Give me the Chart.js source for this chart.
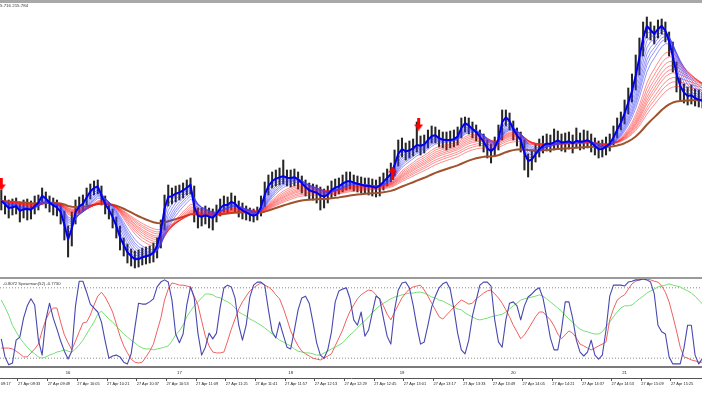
<!DOCTYPE html>
<html><head><meta charset="utf-8">
<script src="https://cdn.jsdelivr.net/npm/chart.js@4/dist/chart.umd.min.js"></script>
<style>
html,body{margin:0;padding:0;background:#fff;width:702px;height:395px;overflow:hidden;}
#topbar{position:absolute;left:0;top:0;width:702px;height:3px;background:#a8a8a8;}
#main{position:absolute;left:0;top:3px;}
#sep{position:absolute;left:0;top:277px;width:702px;height:2px;background:#9a9a9a;}
#osc{position:absolute;left:0;top:279px;}
</style></head><body>
<div id="topbar"></div>
<canvas id="main" width="702" height="274"></canvas>
<div id="sep"></div>
<canvas id="osc" width="702" height="116"></canvas>
<script>
// ---------- data ----------
const startTime = '09:24';
const stepMinutes = 2;
const viewFrom = '09:23.3';
const headerMain = '5.716 215.784';
const headerOsc = '-0.8072 Spearman(52) -0.7730';
const datePrefix = '27 Apr ';
const timeTicks = ['09:17','09:33','09:49','10:05','10:21','10:37','10:53','11:09','11:25','11:41','11:57','12:13','12:29','12:45','13:01','13:17','13:33','13:49','14:05','14:21','14:37','14:53','15:09','15:25'];
const hourTickTimes = ['10:00','11:00','12:00','13:00','14:00','15:00'];
const hourTickLabels = ['16','17','18','19','20','21'];
const priceMin = 214.23, priceMax = 216.97;
const levels = [0.8, -0.8];

const closePrices = [214.99,214.95,214.91,214.93,214.94,214.88,214.91,214.91,214.90,214.95,
214.98,215.06,215.01,214.96,214.94,214.92,214.87,214.72,214.57,214.74,
214.92,214.95,214.97,215.04,215.10,215.13,215.14,215.02,214.94,214.89,
214.81,214.72,214.60,214.53,214.46,214.43,214.40,214.41,214.43,214.44,
214.45,214.48,214.56,214.72,214.97,215.06,215.04,215.07,215.08,215.10,
215.13,215.16,214.88,214.82,214.83,214.85,214.83,214.82,214.87,214.93,
214.96,214.95,214.99,214.96,214.91,214.89,214.87,214.85,214.84,214.86,
214.95,215.08,215.16,215.20,215.22,215.23,215.24,215.22,215.22,215.23,
215.20,215.16,215.12,215.09,215.08,215.07,215.04,215.03,215.06,215.11,
215.13,215.14,215.17,215.19,215.19,215.17,215.16,215.15,215.14,215.14,
215.13,215.12,215.15,215.19,215.23,215.27,215.37,215.49,215.52,215.48,
215.50,215.52,215.56,215.54,215.56,215.61,215.65,215.65,215.61,215.60,
215.60,215.60,215.61,215.64,215.74,215.78,215.74,215.70,215.67,215.62,
215.57,215.50,215.48,215.53,215.63,215.82,215.84,215.78,215.69,215.63,
215.59,215.44,215.37,215.41,215.47,215.52,215.55,215.57,215.56,215.58,
215.60,215.57,215.58,215.59,215.56,215.60,215.58,215.59,215.60,215.57,
215.53,215.50,215.51,215.54,215.57,215.64,215.72,215.79,215.89,216.00,
216.12,216.28,216.47,216.67,216.77,216.69,216.65,216.72,216.75,216.68,
216.56,216.40,216.22,216.11,216.06,216.03,216.05,216.01,216.00,215.99];

const highPrices = [215.10,215.04,215.00,215.01,215.02,214.98,215.00,215.01,214.99,215.04,
215.05,215.12,215.08,215.04,215.02,215.00,214.96,214.89,214.74,214.88,
215.00,215.03,215.05,215.12,215.16,215.19,215.20,215.14,215.04,214.97,
214.91,214.83,214.74,214.62,214.56,214.51,214.49,214.50,214.52,214.53,
214.54,214.57,214.62,214.80,215.05,215.15,215.12,215.14,215.15,215.17,
215.20,215.22,215.14,214.92,214.92,214.94,214.92,214.91,214.95,215.01,
215.04,215.03,215.07,215.04,214.99,214.97,214.94,214.92,214.91,214.93,
215.04,215.18,215.25,215.28,215.30,215.32,215.40,215.30,215.30,215.31,
215.28,215.24,215.20,215.17,215.16,215.15,215.13,215.11,215.14,215.19,
215.21,215.22,215.25,215.28,215.28,215.25,215.24,215.23,215.22,215.22,
215.21,215.20,215.23,215.27,215.31,215.37,215.50,215.60,215.62,215.57,
215.59,215.61,215.78,215.64,215.65,215.70,215.74,215.73,215.70,215.68,
215.68,215.69,215.70,215.73,215.82,215.83,215.82,215.78,215.75,215.70,
215.66,215.60,215.56,215.63,215.75,215.90,215.90,215.87,215.79,215.72,
215.68,215.60,215.46,215.50,215.56,215.61,215.64,215.66,215.65,215.71,
215.69,215.66,215.67,215.68,215.65,215.72,215.67,215.70,215.69,215.66,
215.62,215.59,215.60,215.63,215.66,215.74,215.82,215.88,216.00,216.12,
216.26,216.45,216.62,216.78,216.83,216.78,216.74,216.80,216.81,216.78,
216.68,216.58,216.38,216.22,216.16,216.13,216.15,216.11,216.10,216.08];

const lowPrices = [214.90,214.86,214.82,214.85,214.86,214.78,214.82,214.80,214.81,214.86,
214.90,214.96,214.92,214.88,214.85,214.84,214.76,214.60,214.43,214.54,
214.76,214.87,214.89,214.95,215.01,215.05,215.06,214.95,214.86,214.81,
214.72,214.62,214.50,214.44,214.37,214.34,214.32,214.33,214.35,214.36,
214.37,214.38,214.42,214.52,214.70,214.94,214.96,214.98,215.00,215.02,
215.05,215.06,214.78,214.72,214.74,214.76,214.72,214.70,214.78,214.84,
214.88,214.87,214.90,214.88,214.83,214.81,214.80,214.79,214.78,214.80,
214.84,214.93,215.05,215.12,215.14,215.15,215.16,215.14,215.13,215.14,
215.11,215.07,215.04,215.01,215.00,214.97,214.90,214.92,214.97,215.02,
215.04,215.06,215.08,215.10,215.11,215.09,215.08,215.07,215.06,215.05,
215.04,215.03,215.04,215.10,215.14,215.18,215.24,215.34,215.43,215.40,
215.42,215.44,215.48,215.45,215.47,215.52,215.57,215.57,215.53,215.52,
215.50,215.52,215.53,215.55,215.62,215.68,215.66,215.62,215.59,215.54,
215.48,215.42,215.37,215.44,215.50,215.60,215.74,215.70,215.60,215.54,
215.48,215.30,215.23,215.30,215.38,215.43,215.47,215.49,215.48,215.50,
215.52,215.49,215.48,215.51,215.47,215.52,215.50,215.51,215.52,215.48,
215.45,215.42,215.43,215.45,215.49,215.55,215.62,215.70,215.76,215.86,
215.98,216.10,216.25,216.44,216.62,216.60,216.56,216.62,216.66,216.58,
216.44,216.28,216.08,216.00,215.97,215.95,215.96,215.94,215.93,215.92];

const spearmanBlue = [-0.36,-0.77,-0.95,-0.91,-0.39,-0.32,0.11,0.39,0.55,0.41,
-0.39,-0.73,0.07,0.45,0.11,-0.14,-0.41,-0.64,-0.82,-0.64,
0.39,0.95,0.95,0.70,0.43,0.34,0.25,0.02,-0.41,-0.80,
-0.75,-0.73,-0.77,-0.89,-0.93,-0.70,-0.11,0.45,0.43,0.43,
0.48,0.55,0.82,0.93,0.98,0.93,0.52,-0.25,-0.45,-0.25,
0.41,0.82,0.57,-0.23,-0.73,-0.55,-0.23,-0.36,-0.23,0.36,
0.80,0.86,0.82,0.57,-0.05,-0.39,-0.05,0.59,0.86,0.93,
0.93,0.86,0.30,-0.20,-0.34,0.02,-0.27,-0.55,-0.59,-0.16,
0.30,0.57,0.61,0.45,0.02,-0.45,-0.73,-0.80,-0.61,-0.20,
0.48,0.73,0.77,0.80,0.55,0.07,-0.05,0.25,-0.30,-0.16,
0.23,0.61,0.55,0.11,-0.30,-0.48,0.30,0.75,0.91,0.93,
0.80,0.41,-0.07,-0.48,-0.43,-0.05,0.36,0.61,0.80,0.89,
0.93,0.77,0.32,-0.23,-0.61,-0.70,-0.39,0.16,0.52,0.86,
0.93,0.93,0.84,0.07,-0.43,-0.55,0.07,0.45,0.48,0.39,
0.07,0.39,0.59,0.66,0.75,0.80,0.57,0.14,-0.34,-0.61,
-0.61,-0.16,0.48,0.48,0.11,-0.39,-0.66,-0.75,-0.66,-0.39,
-0.73,-0.82,-0.73,-0.16,0.61,0.86,0.86,0.86,0.84,0.93,
0.95,0.98,0.98,1.00,0.98,0.93,0.66,-0.05,-0.20,-0.25,
-0.77,-0.93,-0.93,-0.93,-0.57,-0.05,-0.05,-0.73,-0.93,-0.80];

const spearmanRed = [-0.57,-0.57,-0.57,-0.59,-0.64,-0.70,-0.77,-0.77,-0.68,-0.59,
-0.48,-0.18,0.07,0.25,0.34,0.34,0.02,-0.27,-0.45,-0.61,
-0.41,-0.20,0.00,0.02,0.18,0.41,0.61,0.70,0.59,0.43,
0.25,-0.02,-0.30,-0.52,-0.68,-0.82,-0.89,-0.91,-0.89,-0.77,
-0.64,-0.48,-0.18,0.11,0.52,0.77,0.91,0.89,0.86,0.86,
0.84,0.82,0.61,0.41,0.05,-0.30,-0.52,-0.66,-0.68,-0.68,
-0.66,-0.41,-0.14,0.09,0.32,0.48,0.61,0.73,0.80,0.86,
0.91,0.86,0.82,0.75,0.64,0.55,0.34,0.09,-0.18,-0.36,
-0.52,-0.64,-0.70,-0.75,-0.80,-0.82,-0.84,-0.80,-0.75,-0.70,
-0.52,-0.34,-0.16,0.07,0.27,0.41,0.55,0.64,0.70,0.75,
0.73,0.64,0.55,0.39,0.20,0.07,0.25,0.41,0.57,0.68,
0.77,0.82,0.84,0.86,0.75,0.61,0.45,0.30,0.14,0.09,
0.18,0.27,0.36,0.45,0.52,0.48,0.43,0.45,0.55,0.61,
0.68,0.73,0.75,0.66,0.57,0.45,0.30,0.14,-0.05,-0.20,
-0.36,-0.27,-0.14,0.00,0.14,0.25,0.25,0.16,0.07,-0.07,
-0.25,-0.36,-0.27,-0.18,-0.23,-0.34,-0.48,-0.52,-0.57,-0.61,
-0.57,-0.52,-0.48,-0.43,0.07,0.32,0.52,0.59,0.64,0.77,
0.89,0.95,0.98,1.00,1.00,0.98,0.95,0.93,0.84,0.70,
0.48,0.16,-0.18,-0.55,-0.77,-0.80,-0.84,-0.86,-0.89,-0.89];

const spearmanGreen = [0.52,0.36,0.18,-0.05,-0.20,-0.34,-0.45,-0.55,-0.64,-0.70,
-0.77,-0.80,-0.77,-0.73,-0.70,-0.66,-0.64,-0.61,-0.64,-0.66,
-0.59,-0.50,-0.39,-0.25,-0.11,0.02,0.20,0.27,0.18,0.09,
0.02,-0.07,-0.16,-0.25,-0.32,-0.39,-0.45,-0.52,-0.57,-0.59,
-0.59,-0.61,-0.59,-0.57,-0.55,-0.52,-0.41,-0.27,-0.18,-0.05,
0.14,0.27,0.39,0.48,0.57,0.66,0.66,0.64,0.59,0.57,
0.52,0.48,0.43,0.34,0.25,0.20,0.16,0.09,0.05,0.00,
-0.05,-0.11,-0.18,-0.25,-0.32,-0.39,-0.43,-0.48,-0.52,-0.59,
-0.64,-0.66,-0.68,-0.68,-0.70,-0.73,-0.73,-0.68,-0.64,-0.59,
-0.55,-0.50,-0.45,-0.36,-0.27,-0.20,-0.11,-0.02,0.05,0.14,
0.23,0.32,0.39,0.45,0.50,0.55,0.59,0.61,0.64,0.66,
0.68,0.68,0.70,0.70,0.68,0.64,0.59,0.57,0.52,0.50,
0.45,0.41,0.36,0.32,0.30,0.23,0.18,0.14,0.09,0.07,
0.09,0.11,0.14,0.16,0.18,0.20,0.25,0.32,0.39,0.45,
0.52,0.55,0.57,0.59,0.61,0.64,0.61,0.55,0.48,0.41,
0.34,0.27,0.18,0.09,0.02,-0.07,-0.14,-0.18,-0.20,-0.23,
-0.25,-0.25,-0.20,-0.09,0.02,0.14,0.25,0.34,0.39,0.39,
0.41,0.48,0.55,0.61,0.68,0.73,0.77,0.82,0.84,0.86,
0.89,0.86,0.84,0.82,0.77,0.73,0.68,0.61,0.52,0.43];

const sellSignals = [{time:'09:24', price:215.16}, {time:'13:09', price:215.76}];
const buySignals = [{time:'12:55', price:215.27}];

// moving-average ribbon periods (in 2-minute bars)
const fastBluePeriod = 1.5;
const blueRibbonPeriods = [2.5, 3.5, 4.5, 5.5, 6.5, 7.5, 9];
const redRibbonPeriods = [12, 14, 16, 18, 20, 22, 25, 28, 32];
const brownPeriod = 48;

// ---------- helpers ----------
const pxPerMinute = 1.855;
function toMin(t){ const [h, m] = t.split(':'); return (+h) * 60 + parseFloat(m); }
const xMin = toMin(viewFrom);
const xMax = xMin + 702 / pxPerMinute;
const barTimes = closePrices.map((_, i) => toMin(startTime) + i * stepMinutes);
function ema(values, period){
  const k = 2 / (period + 1); let prev = values[0];
  return values.map(v => (prev = prev + k * (v - prev)));
}
const pts = arr => arr.map((v, i) => ({x: barTimes[i], y: v}));
function lineDs(data, color, width, order){
  return {type:'line', data, borderColor:color, borderWidth:width, pointRadius:0, tension:0, fill:false, order, borderJoinStyle:'round'};
}
function makeArrow(up){
  const c = document.createElement('canvas'); c.width = 9; c.height = 13;
  const g = c.getContext('2d'); g.fillStyle = '#ff0000'; g.beginPath();
  if (up){ g.moveTo(4.5,0); g.lineTo(9,6); g.lineTo(6,6); g.lineTo(6,13); g.lineTo(3,13); g.lineTo(3,6); g.lineTo(0,6); }
  else { g.moveTo(3,0); g.lineTo(6,0); g.lineTo(6,7); g.lineTo(9,7); g.lineTo(4.5,13); g.lineTo(0,7); g.lineTo(3,7); }
  g.closePath(); g.fill(); return c;
}
const FONT = '"Liberation Sans", Arial, sans-serif';

// ---------- main price chart ----------
const mainDatasets = [];
mainDatasets.push({type:'bar', data: barTimes.map((t, i) => ({x:t, y:[lowPrices[i], highPrices[i]]})),
  backgroundColor:'#262626', borderWidth:0, barThickness:1.4, order:20});
mainDatasets.push(lineDs(pts(ema(closePrices, brownPeriod)), '#a0522d', 2, 10));
redRibbonPeriods.slice().reverse().forEach(p => mainDatasets.push(lineDs(pts(ema(closePrices, p)), 'rgba(255,30,30,0.5)', 1, 8)));
blueRibbonPeriods.slice().reverse().forEach(p => mainDatasets.push(lineDs(pts(ema(closePrices, p)), 'rgba(60,60,255,0.55)', 1, 5)));
mainDatasets.push(lineDs(pts(ema(closePrices, fastBluePeriod)), '#0000ee', 2, 3));
mainDatasets.push({type:'line', showLine:false, data: sellSignals.map(s => ({x:toMin(s.time), y:s.price})), pointStyle:makeArrow(false), pointRadius:5, order:0});
mainDatasets.push({type:'line', showLine:false, data: buySignals.map(s => ({x:toMin(s.time), y:s.price})), pointStyle:makeArrow(true), pointRadius:5, order:0});

const mainHeaderPlugin = {id:'mainHeader', afterDraw(chart){
  const c = chart.ctx; c.save(); c.font = '4.4px ' + FONT; c.fillStyle = '#333';
  c.textBaseline = 'middle'; c.textAlign = 'left'; c.fillText(headerMain, 0, 2.5); c.restore();
}};

new Chart(document.getElementById('main'), {
  type:'bar',
  data:{datasets: mainDatasets},
  options:{responsive:false, animation:false, events:[], layout:{padding:0, autoPadding:false},
    plugins:{legend:{display:false}, tooltip:{enabled:false}},
    scales:{
      x:{type:'linear', min:xMin, max:xMax, offset:false, display:false},
      y:{min:priceMin, max:priceMax, display:false}
    }},
  plugins:[mainHeaderPlugin]
});

// ---------- Spearman oscillator ----------
const oscHeaderPlugin = {id:'oscHeader', afterDraw(chart){
  const c = chart.ctx; c.save(); c.font = '4.2px ' + FONT; c.fillStyle = '#333';
  c.textBaseline = 'middle'; c.textAlign = 'left'; c.fillText(headerOsc, 3, 4.5); c.restore();
}};
const oscDatasets = levels.map(l => ({type:'line', data:[{x:xMin, y:l}, {x:xMax, y:l}], borderColor:'#8a8a8a', borderWidth:1, borderDash:[1,2], pointRadius:0, order:10}));
oscDatasets.push(lineDs(pts(spearmanGreen), '#74e074', 1, 3));
oscDatasets.push(lineDs(pts(spearmanRed), '#f06060', 1, 2));
oscDatasets.push(lineDs(pts(spearmanBlue), '#4848b0', 1.1, 1));

new Chart(document.getElementById('osc'), {
  type:'line',
  data:{datasets: oscDatasets},
  options:{responsive:false, animation:false, events:[], layout:{padding:0, autoPadding:false},
    plugins:{legend:{display:false}, tooltip:{enabled:false}},
    scales:{
      x:{type:'linear', position:'bottom', weight:1, min:xMin, max:xMax, offset:false,
        afterBuildTicks: s => { s.ticks = timeTicks.map(t => ({value: toMin(t)})); },
        afterFit: s => { s.height = 17; s.paddingLeft = 0; s.paddingRight = 0; },
        grid:{display:true, drawOnChartArea:false, drawTicks:true, tickLength:3, color:'#555', lineWidth:1},
        border:{display:true, color:'#555', width:1},
        ticks:{autoSkip:false, maxRotation:0, minRotation:0, align:'start', padding:1, color:'#222',
          font:{family:FONT, size:3.9}, callback:(v, i) => datePrefix + timeTicks[i]}},
      xh:{type:'linear', position:'bottom', weight:0, min:xMin, max:xMax, offset:false,
        afterBuildTicks: s => { s.ticks = hourTickTimes.map(t => ({value: toMin(t)})); },
        afterFit: s => { s.height = 11; s.paddingLeft = 0; s.paddingRight = 0; },
        grid:{display:false, drawTicks:false},
        border:{display:true, color:'#7a7a7a', width:2},
        ticks:{autoSkip:false, maxRotation:0, minRotation:0, padding:3, color:'#222',
          font:{family:FONT, size:4.2}, callback:(v, i) => hourTickLabels[i]}},
      y:{min:-1, max:1, display:false}
    }},
  plugins:[oscHeaderPlugin]
});
</script>
</body></html>
